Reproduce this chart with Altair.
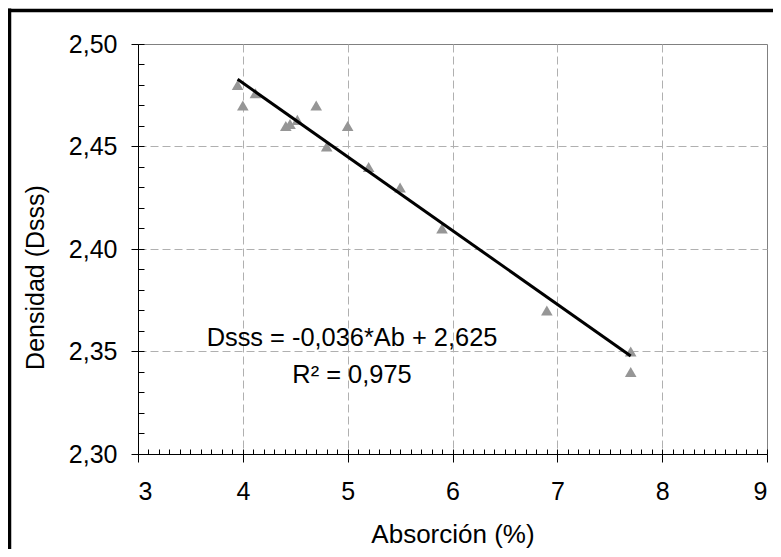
import altair as alt
import pandas as pd
import numpy as np

# ---- data ----
absorcion = [3.95, 4.00, 4.12, 4.41, 4.45, 4.52, 4.70, 4.80, 5.00, 5.20, 5.50, 5.90, 6.90, 7.70, 7.70]
densidad = [2.480, 2.470, 2.476, 2.460, 2.461, 2.463, 2.470, 2.450, 2.460, 2.440, 2.430, 2.410, 2.370, 2.350, 2.340]

slope = -0.036
intercept = 2.625
eq_text = "Dsss = -0,036*Ab + 2,625"
r2_text = "R\u00b2 = 0,975"

x_major = [3, 4, 5, 6, 7, 8, 9]
y_major = [2.30, 2.35, 2.40, 2.45, 2.50]
x_minor = [round(3 + 0.1 * i, 1) for i in range(61)]
y_minor = [round(2.30 + 0.01 * i, 2) for i in range(21)]

FONT = "Liberation Sans"
FS = 25

pts = pd.DataFrame({"Absorcion": absorcion, "Densidad": densidad})
xfit = np.array([min(absorcion), max(absorcion)])
fit = pd.DataFrame({"Absorcion": xfit, "Densidad": intercept + slope * xfit})

xscale = alt.Scale(domain=[3, 9], nice=False, zero=False)
yscale = alt.Scale(domain=[2.30, 2.50], nice=False, zero=False)

edge_x = {"condition": {"test": "datum.value <= 3 || datum.value >= 9", "value": 0}, "value": 1}
edge_y = {"condition": {"test": "datum.value <= 2.3001 || datum.value >= 2.4999", "value": 0}, "value": 1}

x_main = alt.Axis(
    values=x_major, format="d", grid=True, gridDash=[8, 4], gridColor="#b0b0b0",
    gridOpacity=edge_x, tickSize=8, tickColor="black", domainColor="black",
    labelFont=FONT, labelFontSize=FS, labelColor="black", labelPadding=17,
    title="Absorción (%)", titleFont=FONT, titleFontSize=26, titleFontWeight="normal",
    titleColor="black", titleX=314.5, titleY=88, titleBaseline="alphabetic",
)
y_main = alt.Axis(
    values=y_major, grid=True, gridDash=[8, 4], gridColor="#b0b0b0", gridOpacity=edge_y,
    tickSize=7, tickColor="black", domainColor="black",
    labelExpr="replace(format(datum.value, '.2f'), '.', ',')",
    labelFont=FONT, labelFontSize=FS, labelColor="black", labelPadding=14,
    title="Densidad (Dsss)", titleFont=FONT, titleFontSize=25, titleFontWeight="normal",
    titleColor="black", titleX=-95, titleY=233, titleAngle=-90, titleBaseline="alphabetic",
)
x_min_ax = alt.Axis(values=x_minor, orient="bottom", offset=-5, tickSize=5, tickColor="black",
                    labels=False, domain=False, grid=False, title=None)
y_min_ax = alt.Axis(values=y_minor, orient="left", offset=-6, tickSize=6, tickColor="black",
                    labels=False, domain=False, grid=False, title=None)

points = alt.Chart(pts).mark_point(
    shape="triangle-up", filled=True, size=135, color="#969696", opacity=1
).encode(
    x=alt.X("Absorcion:Q", scale=xscale, axis=x_main),
    y=alt.Y("Densidad:Q", scale=yscale, axis=y_main),
)

line = alt.Chart(fit).mark_line(color="black", strokeWidth=3).encode(
    x=alt.X("Absorcion:Q", scale=xscale, axis=x_min_ax),
    y=alt.Y("Densidad:Q", scale=yscale, axis=y_min_ax),
)

txt = pd.DataFrame({"t": [eq_text, r2_text]})
eq = alt.Chart(txt.iloc[[0]]).mark_text(
    font=FONT, fontSize=25.4, color="black", align="center", baseline="alphabetic"
).encode(text="t:N", x=alt.value(214), y=alt.value(302))
r2 = alt.Chart(txt.iloc[[1]]).mark_text(
    font=FONT, fontSize=25.4, color="black", align="center", baseline="alphabetic"
).encode(text="t:N", x=alt.value(214), y=alt.value(339))

frame_left = alt.Chart(txt.iloc[[0]]).mark_rule(color="black", strokeWidth=3.5).encode(
    x=alt.value(-128.5), y=alt.value(-35.5), y2=alt.value(505)
)
frame_top = alt.Chart(txt.iloc[[0]]).mark_rule(color="black", strokeWidth=3.5).encode(
    x=alt.value(-130.5), x2=alt.value(635), y=alt.value(-33.5)
)

chart = alt.layer(frame_left, frame_top, points, line, eq, r2).resolve_axis(
    x="independent", y="independent"
).properties(
    width=629, height=410,
    autosize=alt.AutoSizeParams(type="none"),
    padding={"left": 130, "top": 36, "right": 6, "bottom": 95},
).configure_view(stroke="#808080", strokeWidth=1)

chart.save("out.html", embed_options={"renderer": "svg", "actions": False})
